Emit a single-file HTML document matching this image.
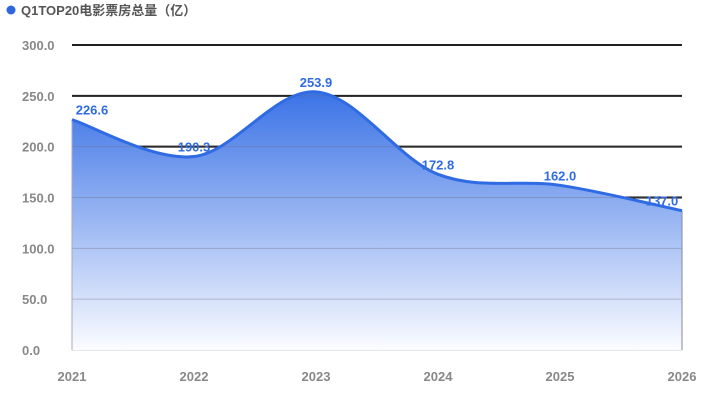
<!DOCTYPE html>
<html><head><meta charset="utf-8"><style>
body{margin:0;background:#fff;width:719px;height:402px;overflow:hidden;font-family:"Liberation Sans","Noto Sans CJK SC",sans-serif}
</style></head><body>
<svg id="c" width="719" height="402">
<defs><linearGradient id="g" x1="0" y1="0" x2="0" y2="1">
<stop offset="0" stop-color="#3a72e6"/>
<stop offset="1" stop-color="#fbfcff"/>
</linearGradient></defs>
<circle cx="11" cy="10" r="4.5" fill="#2f66e0"/>
<text x="21" y="15" font-size="13" font-weight="bold" fill="#555">Q1TOP20电影票房总量（亿）</text>
</svg>
<script>
const categories=["2021","2022","2023","2024","2025","2026"];
const values=[226.6,190.3,253.9,172.8,162.0,137.0];
const yTicks=[0,50,100,150,200,250,300];
const svg=document.getElementById('c');const NS="http://www.w3.org/2000/svg";
const x0=72,x1=682,yb=350,yt=45,ymax=300;
const X=i=>x0+i*(x1-x0)/(categories.length-1);
const Y=v=>yb-v*(yb-yt)/ymax;
function mk(t,a,p){const e=document.createElementNS(NS,t);for(const k in a)e.setAttribute(k,a[k]);(p||svg).appendChild(e);return e;}
const pts=values.map((v,i)=>[X(i),Y(v)]);
let d=`M${pts[0][0]},${pts[0][1]}`;
for(let i=0;i<pts.length-1;i++){const p0=pts[i-1]||pts[i],p1=pts[i],p2=pts[i+1],p3=pts[i+2]||p2;
d+=` C${p1[0]+(p2[0]-p0[0])/6},${p1[1]+(p2[1]-p0[1])/6} ${p2[0]-(p3[0]-p1[0])/6},${p2[1]-(p3[1]-p1[1])/6} ${p2[0]},${p2[1]}`;}
yTicks.forEach(t=>{const l=mk('line',{x1:x0,x2:x1,y1:Y(t),y2:Y(t),stroke:t>0?'#111':'#ccc','stroke-width':t>0?2:1});


const tx=mk('text',{x:22,y:Y(t)+5,'font-size':13,'font-weight':'bold',fill:'#888'});tx.textContent=t.toFixed(1);

});
const area=mk('path',{d:d+` L${x1},${yb} L${x0},${yb} Z`,fill:'url(#g)'});


yTicks.forEach(t=>{if(t>0){const l=mk('line',{x1:x0,x2:x1,y1:Y(t),y2:Y(t),stroke:'#667','stroke-width':1,'stroke-opacity':0.35});

}});
mk('line',{x1:x0,x2:x0,y1:Y(values[0]),y2:yb,stroke:'#aab','stroke-width':1});
mk('line',{x1:x1,x2:x1,y1:Y(values[values.length-1]),y2:yb,stroke:'#889','stroke-width':1});
const line=mk('path',{d:d,fill:'none',stroke:'#2f6be2','stroke-width':3});


categories.forEach((c,i)=>{const t=mk('text',{x:X(i),y:381,'font-size':13,'font-weight':'bold',fill:'#888','text-anchor':'middle'});t.textContent=c;


const v=mk('text',{x:X(i)+(i==0?20:i==values.length-1?-20:0),y:Y(values[i])-5,'font-size':13,'font-weight':'bold',fill:'#2f6be2','text-anchor':'middle'});v.textContent=values[i].toFixed(1);

});
</script>
</body></html>
